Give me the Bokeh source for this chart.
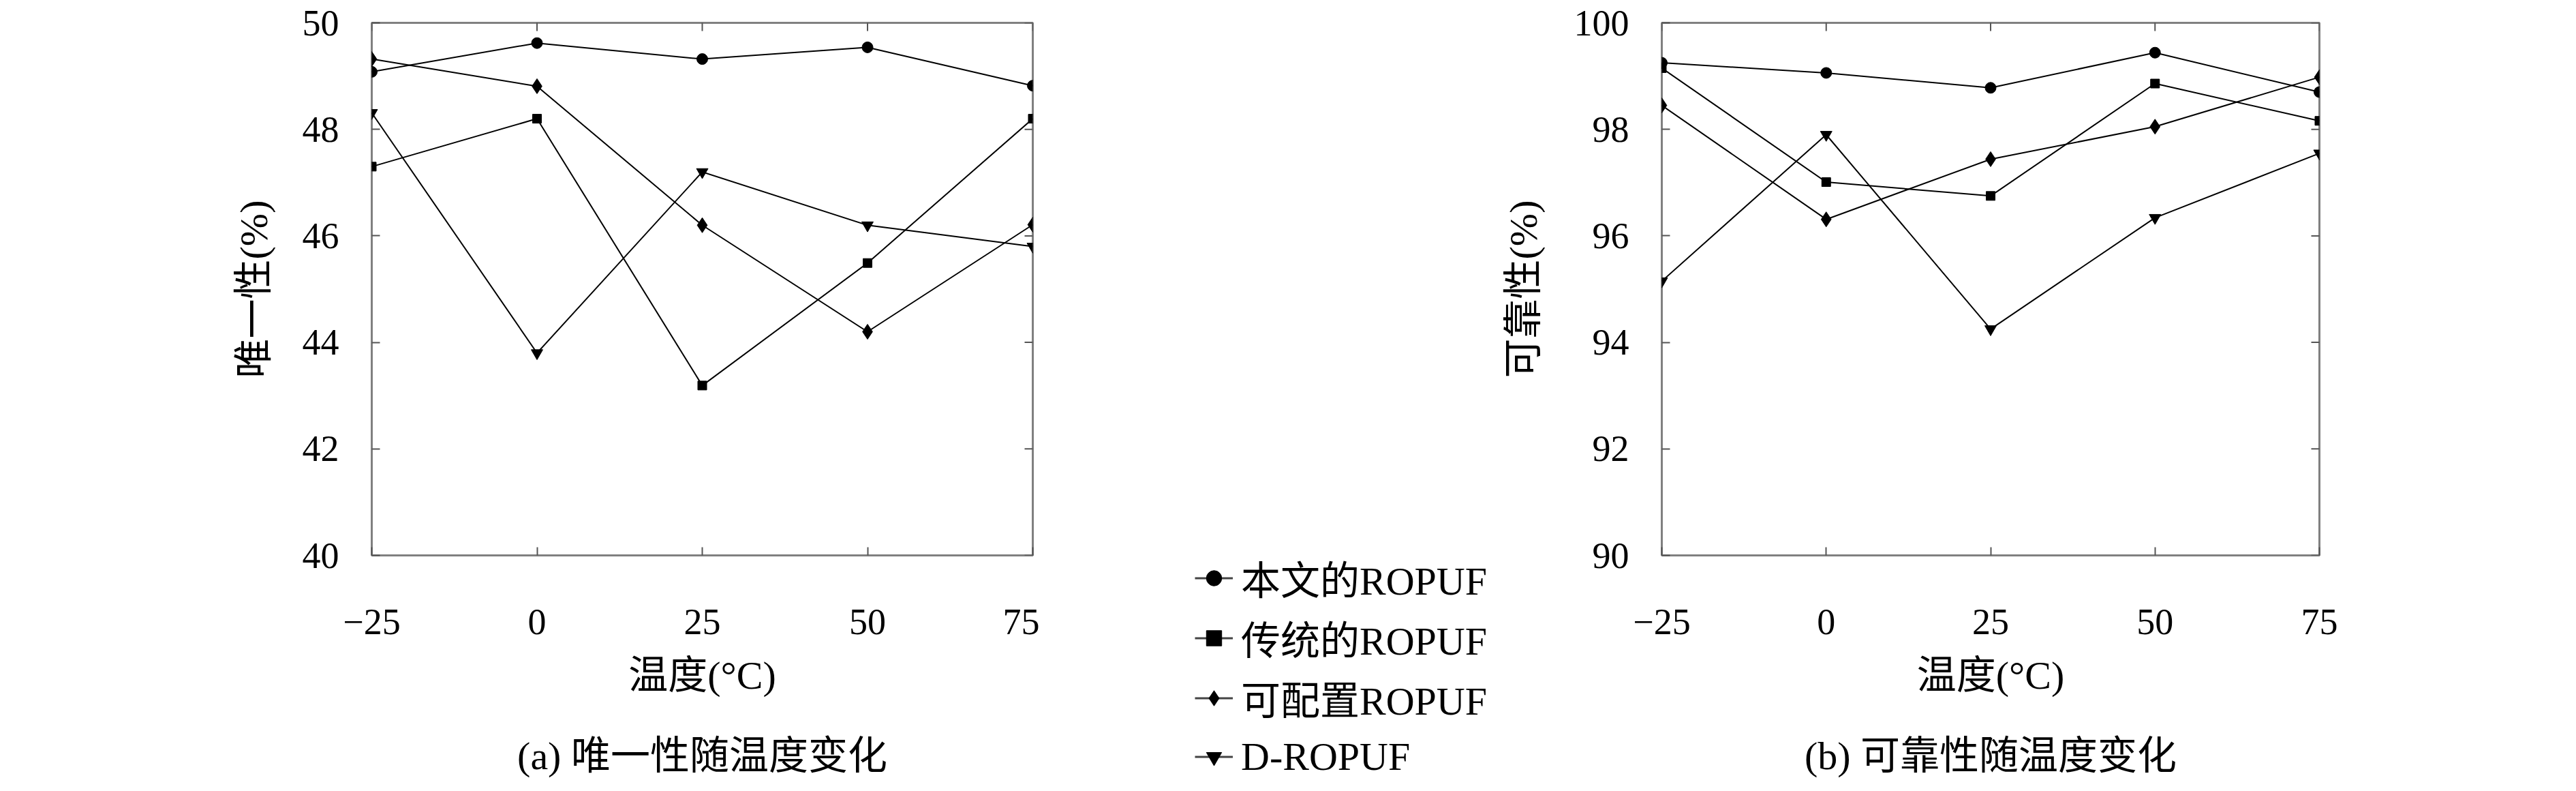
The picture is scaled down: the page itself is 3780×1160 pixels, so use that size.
import math
from bokeh.plotting import figure
from bokeh.models import Range1d, LinearAxis, FixedTicker, Legend, LegendItem
from bokeh.layouts import row
from bokeh.embed import file_html
from bokeh.resources import INLINE

# ---------------- data ----------------
temps = [-25, 0, 25, 50, 75]
x_tick_labels = ["−25", "0", "25", "50", "75"]
series_names = ["本文的ROPUF", "传统的ROPUF", "可配置ROPUF", "D-ROPUF"]
markers = ["circle", "square", "diamond", "inverted_triangle"]

# (a) uniqueness (%)
uniq_ours = [49.08, 49.62, 49.32, 49.54, 48.82]
uniq_trad = [47.30, 48.20, 43.19, 45.49, 48.20]
uniq_conf = [49.32, 48.81, 46.20, 44.20, 46.21]
uniq_d = [48.31, 43.80, 47.20, 46.20, 45.80]
uniq_ticks = [40, 42, 44, 46, 48, 50]

# (b) reliability (%)
rel_ours = [99.25, 99.06, 98.78, 99.44, 98.70]
rel_trad = [99.15, 97.01, 96.75, 98.86, 98.16]
rel_conf = [98.45, 96.31, 97.44, 98.05, 98.98]
rel_d = [95.15, 97.90, 94.25, 96.34, 97.55]
rel_ticks = [90, 92, 94, 96, 98, 100]

x_label = "温度(°C)"
y_label_a = "唯一性(%)"
y_label_b = "可靠性(%)"
caption_a = "(a) 唯一性随温度变化"
caption_b = "(b) 可靠性随温度变化"

FONT = '"Liberation Serif", "Noto Sans CJK SC"'
FRAME_COLOR = "#808080"
TICK_COLOR = "#555555"
marker_sizes = {"circle": 16, "square": 13, "diamond": 22, "inverted_triangle": 17}

H = 1144
TOP = 33
BOTTOM = 330


def style_axis(ax, ticks):
    ax.ticker = FixedTicker(ticks=ticks)
    ax.axis_line_color = None
    ax.major_tick_in = 12
    ax.major_tick_out = 0
    ax.minor_tick_line_color = None
    ax.major_tick_line_color = TICK_COLOR
    ax.major_tick_line_width = 2
    ax.major_label_text_font = FONT
    ax.major_label_text_font_size = "54px"
    ax.major_label_text_color = "black"
    ax.axis_label_text_font = FONT
    ax.axis_label_text_font_size = "58px"
    ax.axis_label_text_font_style = "normal"
    ax.axis_label_text_color = "black"


def make_panel(width, border_left, border_right, yr, yticks, ylabel, ylabel_standoff,
               caption, series):
    p = figure(width=width, height=H, x_range=Range1d(-25, 75), y_range=Range1d(*yr),
               output_backend="svg", toolbar_location=None,
               min_border_left=border_left, min_border_right=border_right,
               min_border_top=TOP, min_border_bottom=BOTTOM)
    p.grid.visible = False
    p.outline_line_color = FRAME_COLOR
    p.outline_line_width = 3
    p.background_fill_color = "white"
    p.border_fill_color = "white"

    xa = p.xaxis[0]
    style_axis(xa, temps)
    xa.major_label_overrides = {t: l for t, l in zip(temps, x_tick_labels)}
    xa.major_label_standoff = 79
    xa.axis_label = x_label
    xa.axis_label_standoff = 25

    ya = p.yaxis[0]
    style_axis(ya, yticks)
    ya.major_label_standoff = 48
    ya.axis_label = ylabel
    ya.axis_label_standoff = ylabel_standoff

    # caption: an extra tick-less axis below the x axis
    cap = LinearAxis(ticker=FixedTicker(ticks=[]), axis_label=caption)
    style_axis(cap, [])
    cap.major_label_standoff = 0
    cap.major_tick_in = 0
    cap.axis_label_standoff = 50
    p.add_layout(cap, "below")

    # mirrored inward ticks on the top and right edges (clipped to the frame)
    p.scatter(x=temps, y=[yr[1]] * len(temps), marker="dash", angle=math.pi / 2,
              size=24, line_color=TICK_COLOR, line_width=2)
    p.scatter(x=[75] * len(yticks), y=yticks, marker="dash", size=24,
              line_color=TICK_COLOR, line_width=2)

    for vals, mk in zip(series, markers):
        p.line(temps, vals, line_color="black", line_width=2)
        p.scatter(temps, vals, marker=mk, size=marker_sizes[mk],
                  fill_color="black", line_color="black")
    return p


p1 = make_panel(1525, 545, 10, (40, 50), uniq_ticks, y_label_a, 36, caption_a,
                [uniq_ours, uniq_trad, uniq_conf, uniq_d])
p2 = make_panel(1567, 241, 361, (90, 100), rel_ticks, y_label_b, 39, caption_b,
                [rel_ours, rel_trad, rel_conf, rel_d])

# legend panel between the two charts
pm = figure(width=672, height=H, x_range=Range1d(0, 1), y_range=Range1d(0, 1),
            x_axis_location=None, y_axis_location=None,
            min_border=0, toolbar_location=None, output_backend="svg")
pm.frame_align = False
pm.grid.visible = False
pm.outline_line_color = None
nan = float("nan")
items = []
for name, mk in zip(series_names, markers):
    lr = pm.line(x=[nan], y=[nan], line_color="#444444", line_width=3)
    sr = pm.scatter(x=[nan], y=[nan], marker=mk, size=marker_sizes[mk],
                    fill_color="black", line_color="black")
    items.append(LegendItem(label=name, renderers=[lr, sr]))
legend = Legend(items=items, location=(228, -6), orientation="vertical",
                padding=0, margin=0, spacing=4, glyph_width=56, glyph_height=81,
                label_height=81, label_standoff=12, label_text_font=FONT,
                label_text_font_size="58px", label_text_color="black",
                border_line_color=None, background_fill_alpha=0)
pm.add_layout(legend)

layout = row(p1, pm, p2)
open("out.html", "w").write(file_html(layout, INLINE))
